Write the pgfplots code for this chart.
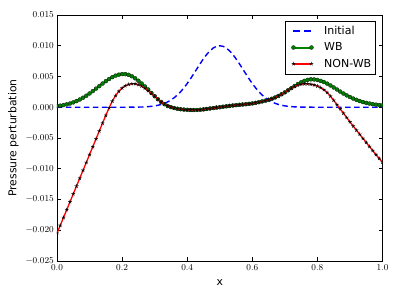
\documentclass[border=0pt]{standalone}
\usepackage[no-math]{fontspec}
\setmainfont{DejaVu Sans}
\usepackage{pgfplots}
\pgfplotsset{compat=1.18}
\definecolor{mplblue}{rgb}{0,0,1}
\definecolor{mplgreen}{rgb}{0,0.5,0}
\definecolor{mplred}{rgb}{1,0,0}
\pgfplotstableread[row sep=\\]{
x y\\
0.00 0\\ 0.10 0\\ 0.20 0\\ 0.24 0.00002\\ 0.26 0.00004\\ 0.27 0.00006\\ 0.28 0.00010\\ 0.29 0.00015\\
0.30 0.00022\\ 0.31 0.00032\\ 0.32 0.00046\\ 0.33 0.00064\\ 0.34 0.00087\\ 0.35 0.00117\\ 0.36 0.00155\\ 0.37 0.00200\\
0.38 0.00254\\ 0.39 0.00316\\ 0.40 0.00386\\ 0.41 0.00462\\ 0.42 0.00544\\ 0.43 0.00627\\ 0.44 0.00710\\ 0.45 0.00788\\
0.46 0.00859\\ 0.47 0.00918\\ 0.48 0.00963\\ 0.49 0.00991\\ 0.50 0.01000\\ 0.51 0.00991\\ 0.52 0.00963\\ 0.53 0.00918\\
0.54 0.00859\\ 0.55 0.00788\\ 0.56 0.00710\\ 0.57 0.00627\\ 0.58 0.00544\\ 0.59 0.00462\\ 0.60 0.00386\\ 0.61 0.00316\\
0.62 0.00254\\ 0.63 0.00200\\ 0.64 0.00155\\ 0.65 0.00117\\ 0.66 0.00087\\ 0.67 0.00064\\ 0.68 0.00046\\ 0.69 0.00032\\
0.70 0.00022\\ 0.71 0.00015\\ 0.72 0.00010\\ 0.73 0.00006\\ 0.74 0.00004\\ 0.76 0.00002\\ 0.80 0\\ 0.90 0\\ 1.00 0\\
}\initial
\pgfplotstableread[row sep=\\]{
x y\\
0.00 0.00019\\ 0.01 0.00026\\ 0.02 0.00035\\ 0.03 0.00047\\ 0.04 0.00061\\ 0.05 0.00079\\ 0.06 0.00100\\ 0.07 0.00126\\
0.08 0.00155\\ 0.09 0.00187\\ 0.10 0.00224\\ 0.11 0.00262\\ 0.12 0.00303\\ 0.13 0.00344\\ 0.14 0.00385\\ 0.15 0.00424\\
0.16 0.00459\\ 0.17 0.00490\\ 0.18 0.00514\\ 0.19 0.00530\\ 0.20 0.00539\\ 0.21 0.00538\\ 0.22 0.00527\\ 0.23 0.00504\\
0.24 0.00471\\ 0.25 0.00431\\ 0.26 0.00386\\ 0.27 0.00338\\ 0.28 0.00289\\ 0.29 0.00232\\ 0.30 0.00180\\ 0.31 0.00130\\
0.32 0.00086\\ 0.33 0.00050\\ 0.34 0.00021\\ 0.35 0.00002\\ 0.36 -0.00013\\ 0.37 -0.00024\\ 0.38 -0.00032\\ 0.39 -0.00038\\
0.40 -0.00042\\ 0.41 -0.00044\\ 0.42 -0.00045\\ 0.43 -0.00044\\ 0.44 -0.00040\\ 0.45 -0.00035\\ 0.46 -0.00028\\ 0.47 -0.00020\\
0.48 -0.00013\\ 0.49 -0.00006\\ 0.50 0.00000\\ 0.51 0.00008\\ 0.52 0.00015\\ 0.53 0.00022\\ 0.54 0.00028\\ 0.55 0.00034\\
0.56 0.00039\\ 0.57 0.00044\\ 0.58 0.00049\\ 0.59 0.00055\\ 0.60 0.00062\\ 0.61 0.00071\\ 0.62 0.00082\\ 0.63 0.00095\\
0.64 0.00107\\ 0.65 0.00121\\ 0.66 0.00138\\ 0.67 0.00159\\ 0.68 0.00183\\ 0.69 0.00211\\ 0.70 0.00242\\ 0.71 0.00276\\
0.72 0.00311\\ 0.73 0.00345\\ 0.74 0.00377\\ 0.75 0.00406\\ 0.76 0.00429\\ 0.77 0.00445\\ 0.78 0.00454\\ 0.79 0.00452\\
0.80 0.00444\\ 0.81 0.00428\\ 0.82 0.00409\\ 0.83 0.00384\\ 0.84 0.00355\\ 0.85 0.00322\\ 0.86 0.00289\\ 0.87 0.00255\\
0.88 0.00223\\ 0.89 0.00193\\ 0.90 0.00166\\ 0.91 0.00141\\ 0.92 0.00120\\ 0.93 0.00101\\ 0.94 0.00084\\ 0.95 0.00071\\
0.96 0.00060\\ 0.97 0.00050\\ 0.98 0.00042\\ 0.99 0.00036\\ 1.00 0.00031\\
}\wb
\pgfplotstableread[row sep=\\]{
x y\\
0.00 -0.02050\\ 0.01 -0.01922\\ 0.02 -0.01794\\ 0.03 -0.01666\\ 0.04 -0.01538\\ 0.05 -0.01410\\ 0.06 -0.01282\\ 0.07 -0.01154\\
0.08 -0.01026\\ 0.09 -0.00898\\ 0.10 -0.00770\\ 0.11 -0.00642\\ 0.12 -0.00514\\ 0.13 -0.00386\\ 0.14 -0.00258\\ 0.15 -0.00132\\
0.16 -0.00010\\ 0.17 0.00100\\ 0.18 0.00190\\ 0.19 0.00260\\ 0.20 0.00312\\ 0.21 0.00349\\ 0.22 0.00372\\ 0.23 0.00382\\
0.24 0.00381\\ 0.25 0.00368\\ 0.26 0.00343\\ 0.27 0.00309\\ 0.28 0.00268\\ 0.29 0.00224\\ 0.30 0.00178\\ 0.31 0.00130\\
0.32 0.00086\\ 0.33 0.00050\\ 0.34 0.00021\\ 0.35 0.00002\\ 0.36 -0.00013\\ 0.37 -0.00024\\ 0.38 -0.00032\\ 0.39 -0.00038\\
0.40 -0.00042\\ 0.41 -0.00044\\ 0.42 -0.00045\\ 0.43 -0.00044\\ 0.44 -0.00040\\ 0.45 -0.00035\\ 0.46 -0.00028\\ 0.47 -0.00020\\
0.48 -0.00013\\ 0.49 -0.00006\\ 0.50 0.00000\\ 0.51 0.00008\\ 0.52 0.00015\\ 0.53 0.00022\\ 0.54 0.00028\\ 0.55 0.00034\\
0.56 0.00039\\ 0.57 0.00044\\ 0.58 0.00049\\ 0.59 0.00055\\ 0.60 0.00062\\ 0.61 0.00071\\ 0.62 0.00082\\ 0.63 0.00095\\
0.64 0.00107\\ 0.65 0.00121\\ 0.66 0.00138\\ 0.67 0.00159\\ 0.68 0.00183\\ 0.69 0.00211\\ 0.70 0.00242\\ 0.71 0.00276\\
0.72 0.00309\\ 0.73 0.00338\\ 0.74 0.00360\\ 0.75 0.00374\\ 0.76 0.00380\\ 0.77 0.00380\\ 0.78 0.00374\\ 0.79 0.00362\\
0.80 0.00344\\ 0.81 0.00319\\ 0.82 0.00285\\ 0.83 0.00240\\ 0.84 0.00180\\ 0.85 0.00113\\ 0.86 0.00043\\ 0.87 -0.00027\\
0.88 -0.00097\\ 0.89 -0.00167\\ 0.90 -0.00237\\ 0.91 -0.00306\\ 0.92 -0.00373\\ 0.93 -0.00440\\ 0.94 -0.00507\\ 0.95 -0.00573\\
0.96 -0.00639\\ 0.97 -0.00705\\ 0.98 -0.00771\\ 0.99 -0.00833\\ 1.00 -0.00893\\
}\nonwb
\begin{document}
\begin{tikzpicture}
\path[use as bounding box] (-57pt,-38pt) rectangle (342pt,261pt);
\begin{axis}[
  at={(0pt,0pt)}, anchor=south west,
  width=325.5pt, height=246pt, scale only axis,
  xmin=0, xmax=1, ymin=-0.025, ymax=0.015,
  xtick={0,0.2,0.4,0.6,0.8,1.0},
  ytick={-0.025,-0.020,-0.015,-0.010,-0.005,0,0.005,0.010,0.015},
  scaled x ticks=false, scaled y ticks=false,
  xticklabel style={/pgf/number format/fixed,/pgf/number format/fixed zerofill,/pgf/number format/precision=1, inner sep=0pt, yshift=-3.5pt},
  yticklabel style={/pgf/number format/fixed,/pgf/number format/fixed zerofill,/pgf/number format/precision=3, inner sep=0pt, xshift=-3pt},
  tick label style={font=\fontsize{9.1}{10}\selectfont},
  tick align=inside, major tick length=4pt,
  every tick/.style={black, line width=0.6pt},
  axis line style={black, line width=0.8pt},
  clip marker paths=true,
  every axis x label/.style={at={(axis description cs:0.5,0)}, yshift=-22pt, anchor=center},
  every axis y label/.style={at={(axis description cs:0,0.5)}, xshift=-43.5pt, rotate=90, anchor=center},
  label style={font=\fontsize{10.8}{12}\selectfont},
  xlabel={x}, ylabel={Pressure perturbation},
  legend cell align=left,
  legend style={at={(1,1)}, anchor=north east, xshift=-6.5pt, yshift=-5.7pt,
    line width=0.6pt, fill=white, font=\fontsize{11}{13}\selectfont,
    inner xsep=3.5pt, inner ysep=4.25pt, row sep=4.65pt,
    nodes={inner sep=1pt},
    /tikz/every odd column/.append style={column sep=9.7pt}},
]
\addplot[mplblue, line width=1.4pt, dash pattern=on 5.5pt off 3.5pt,
  legend image code/.code={\path (-3.5pt,0pt); \draw[draw=mplblue, line width=1.6pt, dash pattern=on 6.5pt off 4.5pt] (0pt,0pt) -- (18pt,0pt);}]
  table[x=x,y=y] {\initial};
\addlegendentry{Initial}
\addplot[mplgreen, line width=1.4pt, mark=*, mark size=2pt, mark options={fill=mplgreen, draw=black, line width=0.25pt, solid},
  legend image code/.code={\path (-3.5pt,0pt); \draw[draw=mplgreen, line width=2pt, solid] (0pt,0pt) -- (18pt,0pt);
    \draw[draw=black, fill=mplgreen, line width=0.25pt, solid] plot[only marks, mark=*, mark size=2pt] coordinates {(0pt,0pt) (18pt,0pt)};}]
  table[x=x,y=y] {\wb};
\addlegendentry{WB}
\addplot[mplred, line width=1.3pt, mark=star, mark size=1.9pt, mark options={draw=black, line width=0.55pt, solid},
  legend image code/.code={\path (-3.5pt,0pt); \draw[draw=mplred, line width=2pt, solid] (0pt,0pt) -- (18pt,0pt);
    \draw[draw=black, line width=0.55pt, solid] plot[only marks, mark=star, mark size=1.9pt] coordinates {(0pt,0pt) (18pt,0pt)};}]
  table[x=x,y=y] {\nonwb};
\addlegendentry{NON-WB}
\end{axis}
\end{tikzpicture}
\end{document}
